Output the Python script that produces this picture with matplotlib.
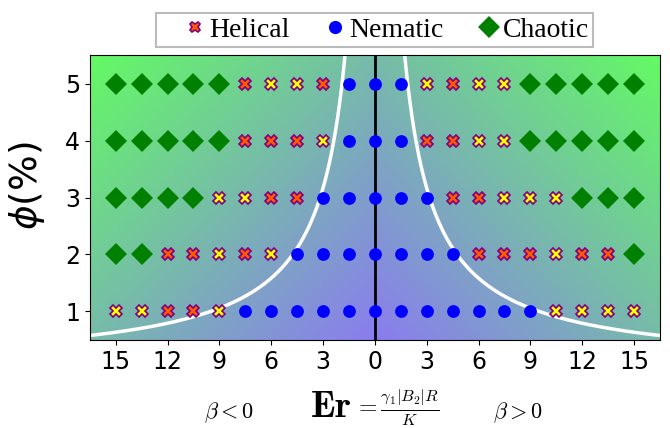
import numpy as np
import matplotlib
matplotlib.use("Agg")
import matplotlib.pyplot as plt
from matplotlib.lines import Line2D

# data ---------------------------------------------------------------------
er = [-15, -13.5, -12, -10.5, -9, -7.5, -6, -4.5, -3, -1.5, 0,
      1.5, 3, 4.5, 6, 7.5, 9, 10.5, 12, 13.5, 15]
phi = [1, 2, 3, 4, 5]
# D = chaotic, N = nematic, O = helical (orange), Y = helical (yellow)
states = {
    5: "DDDDDOYYONNNYOYYDDDDD",
    4: "DDDDDOOOYNNNOOYYDDDDD",
    3: "DDDDYYOONNNNNOOYYYDDD",
    2: "DDOOYOYNNNNNNNOOOYOOD",
    1: "YYOOYNNNNNNNNNNNNYYYY",
}
boundary_c = 9.5          # white line: phi = c / |Er|
xticks = [-15, -12, -9, -6, -3, 0, 3, 6, 9, 12, 15]

# styles
styles = {
    "D": dict(marker="D", color="green", ms=11, mec="green", mew=0),
    "N": dict(marker="o", color="blue", ms=9.2, mec="blue", mew=0),
    "O": dict(marker="X", color="#ff5a00", ms=8.5, mec="purple", mew=1.2),
    "Y": dict(marker="X", color="yellow", ms=8.5, mec="purple", mew=1.2),
}

fig = plt.figure(figsize=(6.7, 4.28), dpi=100)
ax = fig.add_axes([0.134, 0.206, 0.851, 0.665])
xlim = (-16.5, 16.5)
ylim = (0.5, 5.5)

# background gradient
gx = np.linspace(xlim[0], xlim[1], 400)
gy = np.linspace(ylim[0], ylim[1], 200)
GX, GY = np.meshgrid(gx, gy)
t = 0.5 * (np.abs(GX) / xlim[1] + (GY - ylim[0]) / (ylim[1] - ylim[0]))
c0 = np.array([138, 124, 240]) / 255.
c1 = np.array([100, 250, 100]) / 255.
img = c0[None, None, :] * (1 - t[..., None]) + c1[None, None, :] * t[..., None]
ax.imshow(img, extent=[xlim[0], xlim[1], ylim[0], ylim[1]], origin="lower",
          aspect="auto", zorder=0)

# boundary curves
xc = np.linspace(0.5, 17, 400)
ax.plot(xc, boundary_c / xc, color="white", lw=2.5, zorder=2)
ax.plot(-xc, boundary_c / xc, color="white", lw=2.5, zorder=2)
ax.axvline(0, color="black", lw=2, zorder=2)

# state points
for p in phi:
    for x, s in zip(er, states[p]):
        ax.plot(x, p, ls="none", zorder=3, **styles[s])

ax.set_xlim(xlim)
ax.set_ylim(ylim)
ax.set_xticks(xticks)
ax.set_xticklabels([str(abs(v)) for v in xticks])
ax.set_yticks(phi)
ax.tick_params(labelsize=17)
ax.set_ylabel(r"$\phi(\%)$", fontsize=27)
ax.yaxis.set_label_coords(-0.075, 0.54)

# x label pieces
fig.text(0.493, 0.026, r"$\mathbf{Er}$", fontsize=27, ha="center",
         va="baseline", math_fontfamily="cm")
fig.text(0.528, 0.046, r"$=\frac{\gamma_1 |B_2| R}{K}$", fontsize=17,
         ha="left", va="center", math_fontfamily="cm")
fig.text(0.342, 0.035, r"$\beta < 0$", fontsize=16, ha="center",
         va="center", math_fontfamily="cm")
fig.text(0.773, 0.035, r"$\beta > 0$", fontsize=16, ha="center",
         va="center", math_fontfamily="cm")

# legend
handles = [
    Line2D([], [], ls="none", marker="X", color="#ff5a00", mec="purple",
           ms=7.5, mew=1.2, label="Helical"),
    Line2D([], [], ls="none", marker="o", color="blue", ms=9.5, mew=0,
           label="Nematic"),
    Line2D([], [], ls="none", marker="D", color="green", ms=11, mew=0,
           label="Chaotic"),
]
leg = ax.legend(handles=handles, loc="lower center",
                bbox_to_anchor=(0.5, 1.03), ncol=3, fancybox=False,
                edgecolor="#aaaaaa", handlelength=2.5, handletextpad=-0.75,
                columnspacing=0.4, borderpad=0.15, borderaxespad=0,
                prop={"family": "Liberation Serif", "size": 20})
leg.get_frame().set_linewidth(1.5)

fig.savefig("out.png", dpi=100)
